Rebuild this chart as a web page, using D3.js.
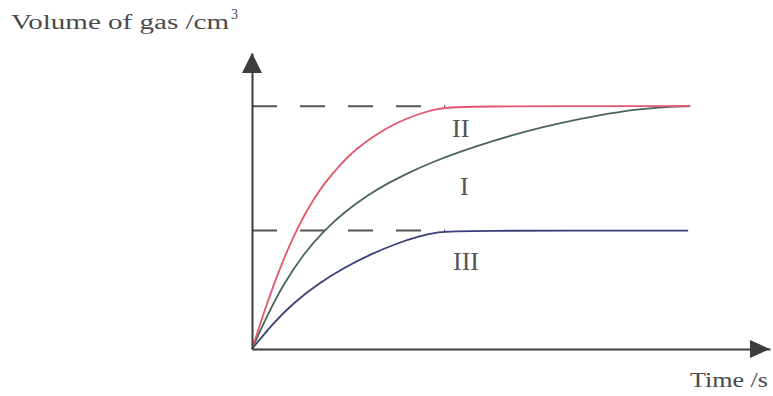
<!DOCTYPE html>
<html><head><meta charset="utf-8">
<script src="https://cdn.jsdelivr.net/npm/d3@7"></script>
<style>body{margin:0;background:#fff}svg{display:block}</style>
</head><body>
<svg id="c" width="773" height="396"></svg>
<script>
// Data (time units arbitrary, volume units arbitrary)
const curveI_t   = [0, 3, 6, 10, 14, 18, 22, 26, 30, 35, 40, 46, 53, 60, 67, 74, 80, 84.6];
const curveI_v   = [0, 11.3, 21.2, 31.5, 39.2, 45.3, 50.3, 54.4, 57.9, 61.7, 64.9, 68.3, 71.8, 74.6, 77, 78.9, 79.8, 80];
const curveII_t  = [0, 2, 4, 6, 8, 10, 12, 14, 17, 20, 24, 28, 32, 36, 40, 84.6];
const curveII_v  = [0, 10.5, 20.3, 29.2, 37, 43.8, 49.6, 54.6, 60.8, 65.8, 70.8, 74.6, 77.4, 79.3, 80, 80];
const curveIII_t = [0, 4, 8, 13, 18, 23, 28, 32, 36, 40, 84.2];
const curveIII_v = [0, 8.4, 15.2, 21.8, 27, 31.3, 34.8, 37, 38.6, 39, 39];
const levels = [80, 39];
const levelEndT = 37.3;
const curveLabels = ["II", "I", "III"];
const yTitle = "Volume of gas /cm";
const xTitle = "Time /s";

const svg = d3.select("#c");
const x = d3.scaleLinear().domain([0, 100]).range([252, 770]);
const y = d3.scaleLinear().domain([0, 97.5]).range([349, 53]);
const axisCol = "#3d3d3d";

// dashed levels
svg.selectAll("line.lvl").data(levels).join("line")
  .attr("x1", x(0)).attr("x2", x(levelEndT))
  .attr("y1", d => y(d)).attr("y2", d => y(d))
  .attr("stroke", "#555").attr("stroke-width", 2)
  .attr("stroke-dasharray", "25,23");

// curves
const line = d3.line().x(d => x(d[0])).y(d => y(d[1])).curve(d3.curveBasis);
const series = [
  {t: curveIII_t, v: curveIII_v, c: "#3a3e78"},
  {t: curveI_t, v: curveI_v, c: "#4a6656"},
  {t: curveII_t, v: curveII_v, c: "#e2566e"}
];
series.forEach(s => {
  svg.append("path").datum(d3.zip(s.t, s.v)).attr("d", line)
    .attr("fill", "none").attr("stroke", s.c).attr("stroke-width", 1.8);
});

// axes
const gx = svg.append("g").attr("transform", `translate(0,${y(0)})`)
  .call(d3.axisBottom(x).tickValues([]).tickSizeOuter(0));
const gy = svg.append("g").attr("transform", `translate(${x(0)},0)`)
  .call(d3.axisLeft(y).tickValues([]).tickSizeOuter(0));
[gx, gy].forEach(g => g.select(".domain").attr("stroke", axisCol).attr("stroke-width", 2));

// arrows
const xe = x.range()[1], y0 = y(0), ye = y.range()[1], x0 = x(0);
svg.append("path").attr("d", `M${xe},${y0}L${xe-20},${y0-9}L${xe-20},${y0+9}Z`).attr("fill", axisCol);
svg.append("path").attr("d", `M${x0},${ye}L${x0-10},${ye+20}L${x0+10},${ye+20}Z`).attr("fill", axisCol);

// texts
const serif = "'Liberation Serif','Times New Roman',serif";
svg.append("text").attr("x", 11).attr("y", 29).attr("font-family", serif)
  .attr("font-size", 20).attr("fill", "#4a4a4a")
  .attr("textLength", 218).attr("lengthAdjust", "spacingAndGlyphs").text(yTitle);
svg.append("text").attr("x", 231).attr("y", 19).attr("font-family", serif)
  .attr("font-size", 14).attr("fill", "#4a4a4a").text("3");
svg.append("text").attr("x", 690).attr("y", 387).attr("font-family", serif)
  .attr("font-size", 20).attr("fill", "#4a4a4a")
  .attr("textLength", 78).attr("lengthAdjust", "spacingAndGlyphs").text(xTitle);

const labelPos = [[452, 137], [460, 195], [453, 270]];
svg.selectAll("text.lab").data(curveLabels).join("text")
  .attr("x", (d, i) => labelPos[i][0]).attr("y", (d, i) => labelPos[i][1])
  .attr("font-family", serif).attr("font-size", 26).attr("fill", "#555")
  .text(d => d);
</script>
</body></html>
